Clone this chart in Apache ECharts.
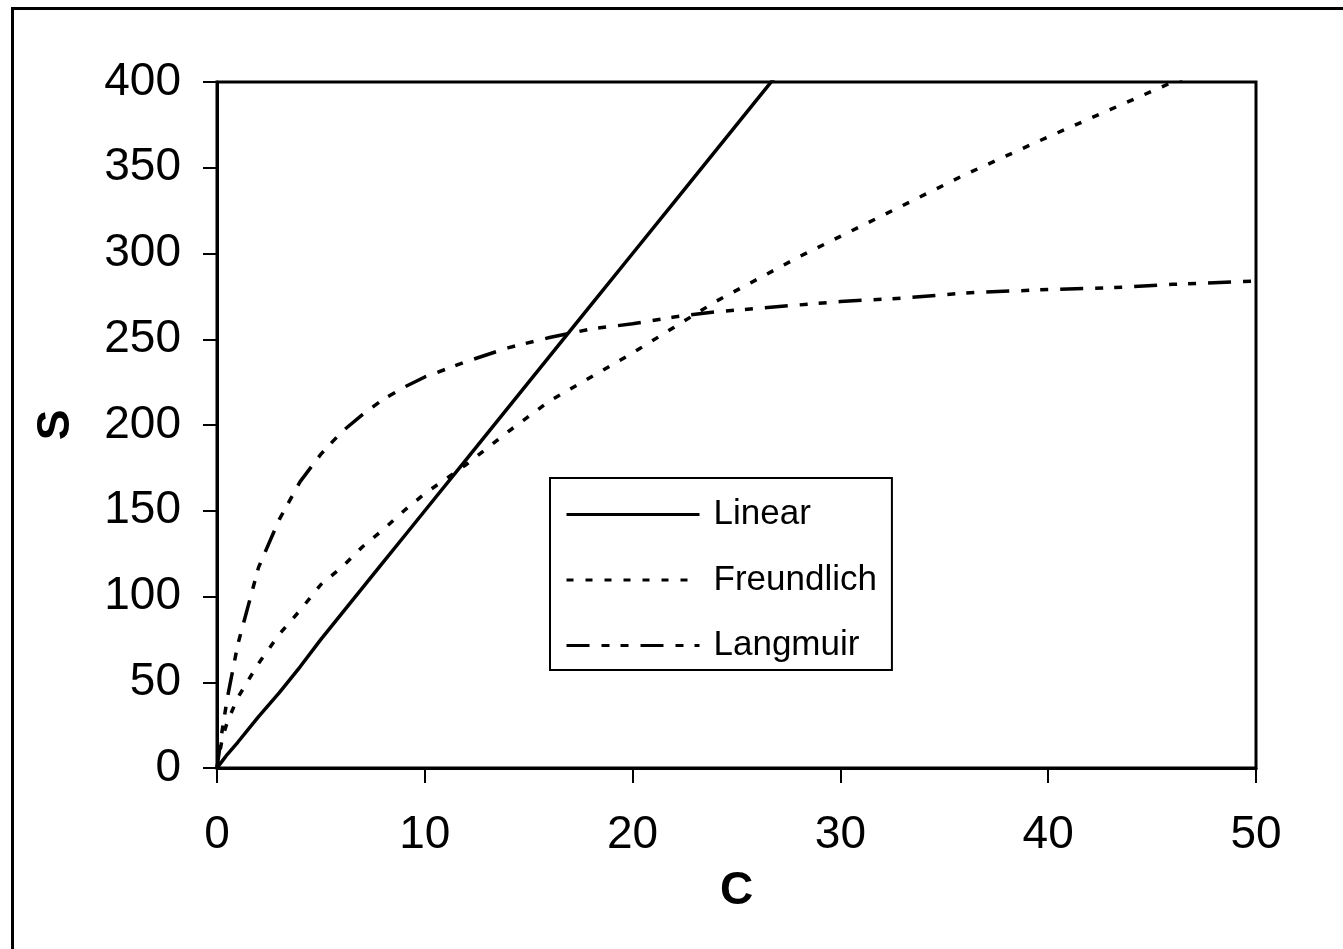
<!DOCTYPE html>
<html>
<head>
<meta charset="utf-8">
<script src="https://cdn.jsdelivr.net/npm/echarts@6/dist/echarts.min.js"></script>
<style>
html,body{margin:0;padding:0;background:#fff;}
#chart{width:1343px;height:949px;}
</style>
</head>
<body>
<div id="chart"></div>
<script>
// C values (x) shared by the three curves
const cValues = [0, 0.25, 0.5, 1, 2, 3, 4, 5, 6, 7, 8, 9, 10, 12, 14, 16, 18, 20, 22, 24, 26, 28, 30, 33, 36, 40, 43, 46, 50];
// S values
const linearS = [0, 4, 8, 15, 30, 44, 59, 75, 90, 105, 120, 135, 150, 180, 210, 240, 270, 300, 330, 360, 390, 420, null, null, null, null, null, null, null];
const freundlichS = [0, 17, 27, 41, 61, 78, 92, 107, 117, 129, 139, 150, 160, 177, 196, 214, 228, 242, 257, 272, 285, 298, 310, 328, 346, 368, 384, 400, 418];
const langmuirS = [0, 22, 41, 72, 117, 145, 167, 183, 196, 206, 215, 222, 228, 237, 245, 251, 256, 259, 263, 266, 268, 270, 272, 274, 277, 279, 280, 282, 284];
const seriesNames = ['Linear', 'Freundlich', 'Langmuir'];
const xTicks = {min: 0, max: 50, interval: 10};
const yTicks = {min: 0, max: 400, interval: 50};

function pairs(ys) { return cValues.map((c, i) => [c, ys[i]]); }

const FONT = "'Liberation Sans', Arial, sans-serif";
const chart = echarts.init(document.getElementById('chart'), null, {renderer: 'canvas'});
chart.setOption({
  backgroundColor: '#fff',
  animation: false,
  graphic: [{
    type: 'rect', left: 10, top: 6, silent: true,
    shape: {x: 0, y: 0, width: 1400, height: 1000},
    style: {fill: 'none', stroke: '#000', lineWidth: 3}
  }],
  grid: {left: 217, top: 82, width: 1039, height: 686, show: true, borderColor: '#000', borderWidth: 3, backgroundColor: 'transparent'},
  legend: {
    orient: 'vertical', left: 550, top: 478,
    data: seriesNames,
    backgroundColor: '#fff',
    borderColor: '#000', borderWidth: 2, borderRadius: 0,
    padding: [19, 15, 7, 15],
    itemWidth: 133, itemHeight: 30, itemGap: 30.5,
    itemStyle: {opacity: 0, borderWidth: 0},
    lineStyle: {width: 3, color: '#000'},
    textStyle: {fontFamily: FONT, fontSize: 35, color: '#000', padding: [0, 0, 0, 9]}
  },
  xAxis: {
    type: 'value', min: xTicks.min, max: xTicks.max, interval: xTicks.interval,
    name: 'C', nameLocation: 'middle', nameGap: 100,
    nameTextStyle: {fontFamily: FONT, fontSize: 46, fontWeight: 'bold', color: '#000'},
    axisLine: {show: true, lineStyle: {color: '#000', width: 3}},
    axisTick: {show: true, inside: false, length: 15, lineStyle: {color: '#000', width: 2}},
    axisLabel: {fontFamily: FONT, fontSize: 46, color: '#000', margin: 44},
    splitLine: {show: false}
  },
  yAxis: {
    type: 'value', min: yTicks.min, max: yTicks.max, interval: yTicks.interval,
    name: 'S', nameLocation: 'middle', nameGap: 138,
    nameTextStyle: {fontFamily: FONT, fontSize: 46, fontWeight: 'bold', color: '#000'},
    axisLine: {show: true, lineStyle: {color: '#000', width: 3}},
    axisTick: {show: true, inside: false, length: 14, lineStyle: {color: '#000', width: 2}},
    axisLabel: {fontFamily: FONT, fontSize: 46, color: '#000', margin: 36},
    splitLine: {show: false}
  },
  series: [
    {name: seriesNames[0], type: 'line', data: pairs(linearS), symbol: 'none', clip: true,
     lineStyle: {color: '#000', width: 3.5, type: 'solid'}},
    {name: seriesNames[1], type: 'line', data: pairs(freundlichS), symbol: 'none', clip: true,
     lineStyle: {color: '#000', width: 3.5, type: [7, 12]}},
    {name: seriesNames[2], type: 'line', data: pairs(langmuirS), symbol: 'none', clip: true,
     lineStyle: {color: '#000', width: 3.5, type: [23, 12, 8, 11, 8, 12]}}
  ]
});
</script>
</body>
</html>
